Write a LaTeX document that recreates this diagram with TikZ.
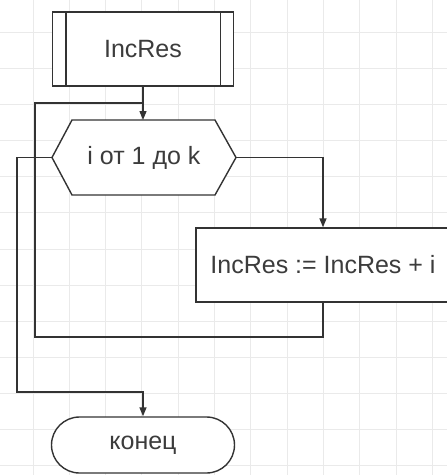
\documentclass[tikz,border=0pt]{standalone}
\usepackage{fontspec}
\setmainfont{Liberation Sans}
\usetikzlibrary{arrows.meta,calc}
\definecolor{linec}{HTML}{333333}
\definecolor{textc}{HTML}{3C3C3C}
\definecolor{gridc}{HTML}{EAEAEA}
\begin{document}
\begin{tikzpicture}[x=1pt,y=-1pt,
  line/.style={draw=linec, line width=1.4pt},
  arr/.style={line, -{Triangle[length=9pt,width=7pt]}},
  txt/.style={font=\fontsize{25}{29}\selectfont, text=textc},
  box/.style={line, fill=white, inner sep=0pt, txt},
  gridline/.style={draw=gridc, line width=1pt}]
\useasboundingbox (0,0) rectangle (447,475);
\fill[white] (0,0) rectangle (447,475);
% grid
\foreach \k in {0,...,12} {
  \draw[gridline] ({33+36.3*\k},0) -- ({33+36.3*\k},475);
}
\foreach \k in {0,...,13} {
  \draw[gridline] (0,{-4+36.15*\k}) -- (447,{-4+36.15*\k});
}
% subroutine box
\node[box, minimum width=181pt, minimum height=74pt] (sub) at (143,49) {IncRes};
\draw[line] ($(sub.north west)+(14,0)$) -- ($(sub.south west)+(14,0)$);
\draw[line] ($(sub.north east)+(-14,0)$) -- ($(sub.south east)+(-14,0)$);
% loop hexagon
\draw[line, fill=white] (52,157.5) -- (72,120) -- (215,120) -- (236,157.5) -- (215,195) -- (72,195) -- cycle;
\node[txt] (hex) at (144,158) {i от 1 до k};
\coordinate (hexT) at (143,120);
\coordinate (hexR) at (236,157.5);
\coordinate (hexL) at (52,157.5);
% process box
\node[box, minimum width=254pt, minimum height=74pt] (proc) at (323,265) {IncRes := IncRes + i};
% terminator
\node[box, minimum width=183pt, minimum height=56pt, rounded corners=28pt] (term) at (143,445) {конец};
% connectors
\coordinate (turnR) at (323,157.5);
\coordinate (loopA) at (35,337);
\coordinate (loopB) at (35,103);
\coordinate (join) at (143,103);
\coordinate (exA) at (17,157.5);
\coordinate (exB) at (17,392);
\draw[arr] (sub.south) -- (hexT);
\draw[arr] (hexR) -- (turnR) -- (proc.north);
\draw[line] (proc.south) |- (loopA) -- (loopB) -- (join);
\draw[arr] (hexL) -- (exA) -- (exB) -| (term.north);
\end{tikzpicture}
\end{document}
